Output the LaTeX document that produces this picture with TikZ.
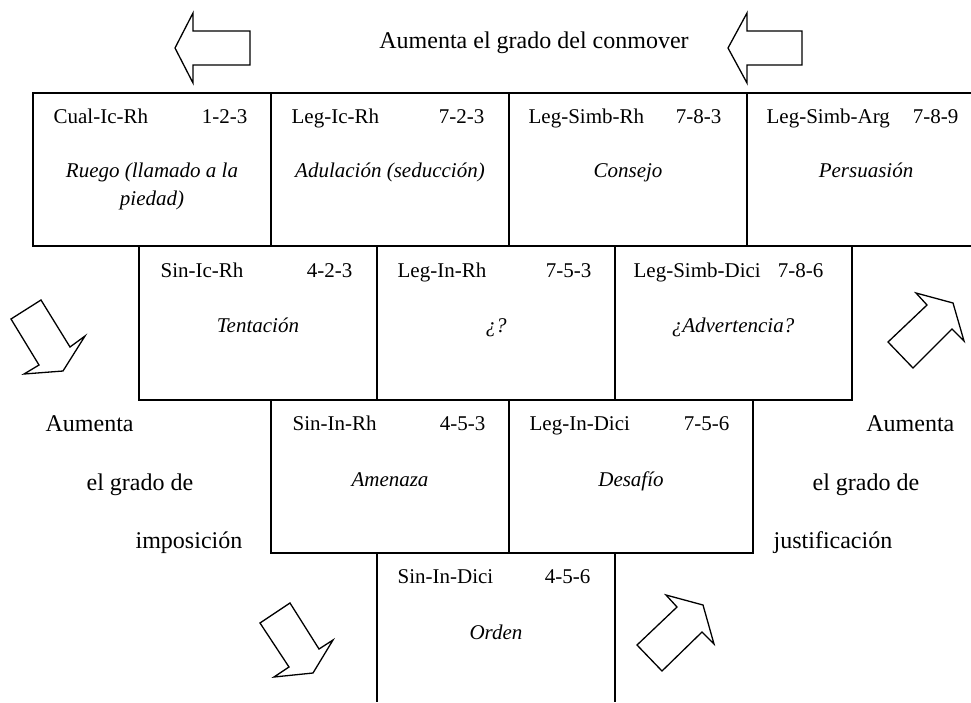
\documentclass[tikz,border=0pt]{standalone}
\usepackage{fontspec}
\setmainfont{Liberation Serif}
\begin{document}
\begin{tikzpicture}[x=1pt,y=-1pt,line width=1.3pt,
  lab/.style={font=\fontsize{21}{25}\selectfont, inner sep=0pt, anchor=base west},
  num/.style={font=\fontsize{21}{25}\selectfont, inner sep=0pt, anchor=base east},
  act/.style={font=\fontsize{21}{25}\selectfont\itshape, inner sep=0pt, anchor=base},
  side/.style={font=\fontsize{24}{28}\selectfont, inner sep=0pt, anchor=base west},
  sider/.style={font=\fontsize{24}{28}\selectfont, inner sep=0pt, anchor=base east},
  bigarrow/.style={draw, line width=1.3pt, line join=miter}]
\useasboundingbox (0,0) rectangle (971,702);
% grid of boxes
\draw (971,93) -- (33,93) -- (33,246) -- (971,246);
\foreach \x in {271,509,747} \draw (\x,93) -- (\x,246);
\draw (139,246) rectangle (852,400);
\foreach \x in {377,615} \draw (\x,246) -- (\x,400);
\draw (271,400) rectangle (753,553);
\draw (509,400) -- (509,553);
\draw (377,553) -- (377,702);
\draw (615,553) -- (615,702);
% row 1
\node[lab] (h1a) at (53,123) {Cual-Ic-Rh};  \node[num] (n1a) at (248,123) {1-2-3};
\node[act] (t1a) at (152,177) {Ruego (llamado a la};
\node[act] (t1b) at (152,205) {piedad)};
\node[lab] (h1b) at (291,123) {Leg-Ic-Rh};  \node[num] (n1b) at (485,123) {7-2-3};
\node[act] (t1c) at (390,177) {Adulación (seducción)};
\node[lab] (h1c) at (528,123) {Leg-Simb-Rh}; \node[num] (n1c) at (722,123) {7-8-3};
\node[act] (t1d) at (628,177) {Consejo};
\node[lab] (h1d) at (766,123) {Leg-Simb-Arg}; \node[num] (n1d) at (959,123) {7-8-9};
\node[act] (t1e) at (866,177) {Persuasión};
% row 2
\node[lab] (h2a) at (160,277) {Sin-Ic-Rh};  \node[num] (n2a) at (353,277) {4-2-3};
\node[act] (t2a) at (258,332) {Tentación};
\node[lab] (h2b) at (397,277) {Leg-In-Rh};  \node[num] (n2b) at (592,277) {7-5-3};
\node[act] (t2b) at (496,332) {¿?};
\node[lab] (h2c) at (633,277) {Leg-Simb-Dici}; \node[num] (n2c) at (824,277) {7-8-6};
\node[act] (t2c) at (733,332) {¿Advertencia?};
% row 3
\node[lab] (h3a) at (292,430) {Sin-In-Rh};  \node[num] (n3a) at (486,430) {4-5-3};
\node[act] (t3a) at (390,486) {Amenaza};
\node[lab] (h3b) at (529,430) {Leg-In-Dici}; \node[num] (n3b) at (730,430) {7-5-6};
\node[act] (t3b) at (631,486) {Desafío};
% row 4
\node[lab] (h4a) at (397,583) {Sin-In-Dici}; \node[num] (n4a) at (591,583) {4-5-6};
\node[act] (t4a) at (496,639) {Orden};
% side texts
\node[font=\fontsize{24}{28}\selectfont, inner sep=0pt, anchor=base] (top) at (534,48) {Aumenta el grado del conmover};
\node[side] (l1) at (45,431) {Aumenta};
\node[side] (l2) at (86,490) {el grado de};
\node[side] (l3) at (135,548) {imposición};
\node[sider] (r1) at (955,431) {Aumenta};
\node[side] (r2) at (812,490) {el grado de};
\node[side] (r3) at (773,548) {justificación};
% block arrows
\draw[bigarrow] (175,48) -- (193,13) -- (193,31) -- (250,31) -- (250,65) -- (193,65) -- (193,83) -- cycle;
\draw[bigarrow] (728,48) -- (747,13) -- (747,31) -- (802,31) -- (802,65) -- (747,65) -- (747,83) -- cycle;
\draw[bigarrow] (41,300) -- (11,319) -- (39,365) -- (24,374) -- (63,371) -- (85,336) -- (70,347) -- cycle;
\draw[bigarrow] (888,342) -- (913,368) -- (952,329) -- (964,341) -- (953,303) -- (916,293) -- (927,305) -- cycle;
\draw[bigarrow] (290,603) -- (260,623) -- (289,667) -- (274,677) -- (313,673) -- (333,640) -- (319,649) -- cycle;
\draw[bigarrow] (637,645) -- (662,671) -- (702,632) -- (714,644) -- (703,605) -- (666,595) -- (677,607) -- cycle;
\end{tikzpicture}
\end{document}
